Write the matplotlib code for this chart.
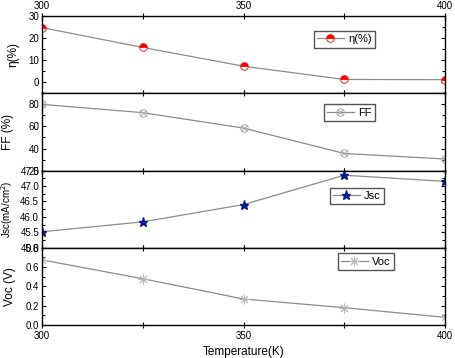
import matplotlib
matplotlib.use("Agg")
import matplotlib.pyplot as plt
from matplotlib.ticker import MultipleLocator
from matplotlib.legend_handler import HandlerTuple

plt.rcParams['font.family'] = ['Liberation Sans', 'DejaVu Sans']
plt.rcParams['font.size'] = 7

# data
temperature = [300, 325, 350, 375, 400]
eta = [24.8, 15.8, 7.3, 1.3, 1.2]
ff = [80.0, 72.5, 58.5, 35.5, 30.5]
jsc = [45.52, 45.84, 46.40, 47.35, 47.15]
voc = [0.675, 0.48, 0.27, 0.18, 0.08]

line_gray = '#8c8c8c'
leg_kw = dict(loc='upper left', handlelength=2.4, fancybox=False, edgecolor='#555555',
              borderpad=0.3, framealpha=1, fontsize=8, handletextpad=0.4)

fig, axes = plt.subplots(4, 1, sharex=True, figsize=(4.56, 3.58), dpi=100)
fig.subplots_adjust(left=0.092, right=0.976, bottom=0.092, top=0.955, hspace=0)
ax_eta, ax_ff, ax_jsc, ax_voc = axes

# efficiency
ax_eta.plot(temperature, eta, '-', color=line_gray, lw=0.9,
            marker='o', ms=5.5, fillstyle='top', mfc='red', mfcalt='white',
            mec='red', mew=0.6, label=u'\u03b7(%)')
ax_eta.set_ylim(-5, 30)
ax_eta.yaxis.set_major_locator(MultipleLocator(10))
ax_eta.yaxis.set_minor_locator(MultipleLocator(5))
ax_eta.set_ylabel(u'\u03b7(%)', fontsize=8.5)
ax_eta.legend(bbox_to_anchor=(0.66, 0.88), **leg_kw)

# fill factor
ff_o, = ax_ff.plot(temperature, ff, '-', color=line_gray, lw=0.9,
                   marker='o', ms=5.5, mfc='none', mec='#b0b0b0', mew=0.7)
ff_x, = ax_ff.plot(temperature, ff, ls='none', marker='x', ms=4.5,
                   mec='#b0b0b0', mew=0.7)
ax_ff.set_ylim(20, 90)
ax_ff.yaxis.set_major_locator(MultipleLocator(20))
ax_ff.yaxis.set_minor_locator(MultipleLocator(10))
ax_ff.set_ylabel('FF (%)', fontsize=8.5)
ax_ff.legend([(ff_o, ff_x)], ['FF'], handler_map={tuple: HandlerTuple(ndivide=1)},
             bbox_to_anchor=(0.685, 0.93), **leg_kw)

# short-circuit current
ax_jsc.plot(temperature, jsc, '-', color=line_gray, lw=0.9,
            marker='*', ms=6.5, mfc='#0a1a8c', mec='#0a1a8c', label='Jsc')
ax_jsc.set_ylim(45.0, 47.5)
ax_jsc.yaxis.set_major_locator(MultipleLocator(0.5))
ax_jsc.yaxis.set_minor_locator(MultipleLocator(0.25))
ax_jsc.yaxis.set_major_formatter('{x:.1f}')
ax_jsc.set_ylabel('Jsc(mA/cm$^2$)', fontsize=7)
ax_jsc.legend(bbox_to_anchor=(0.70, 0.85), **leg_kw)

# open-circuit voltage
ax_voc.plot(temperature, voc, '-', color=line_gray, lw=0.9,
            marker=(8, 2, 0), ms=7, mec='#b8b8b8', mew=0.7, label='Voc')
ax_voc.set_ylim(0.0, 0.8)
ax_voc.yaxis.set_major_locator(MultipleLocator(0.2))
ax_voc.yaxis.set_minor_locator(MultipleLocator(0.1))
ax_voc.yaxis.set_major_formatter('{x:.1f}')
ax_voc.set_ylabel('Voc (V)', fontsize=8.5)
ax_voc.legend(bbox_to_anchor=(0.72, 1.0), **leg_kw)

ax_voc.set_xlim(300, 400)
ax_voc.xaxis.set_major_locator(MultipleLocator(50))
ax_voc.xaxis.set_minor_locator(MultipleLocator(25))
ax_voc.set_xlabel('Temperature(K)', fontsize=8.5)

for i, ax in enumerate(axes):
    for s in ax.spines.values():
        s.set_linewidth(1.0)
    ax.tick_params(axis='y', which='both', direction='in', left=True, right=True,
                   length=3, width=0.8, pad=2)
    ax.tick_params(axis='y', which='minor', length=2)
    ax.tick_params(axis='x', which='both', direction='inout', top=True, bottom=True,
                   length=4, width=0.8, labelbottom=(i == 3), labeltop=(i == 0), pad=2)
    ax.tick_params(axis='x', which='minor', length=4)

ax_eta.yaxis.set_label_coords(-0.055, 0.5)
ax_ff.yaxis.set_label_coords(-0.07, 0.5)
ax_jsc.yaxis.set_label_coords(-0.066, 0.5)
ax_voc.yaxis.set_label_coords(-0.065, 0.5)

plt.savefig('out.png', dpi=100)
plt.close()
